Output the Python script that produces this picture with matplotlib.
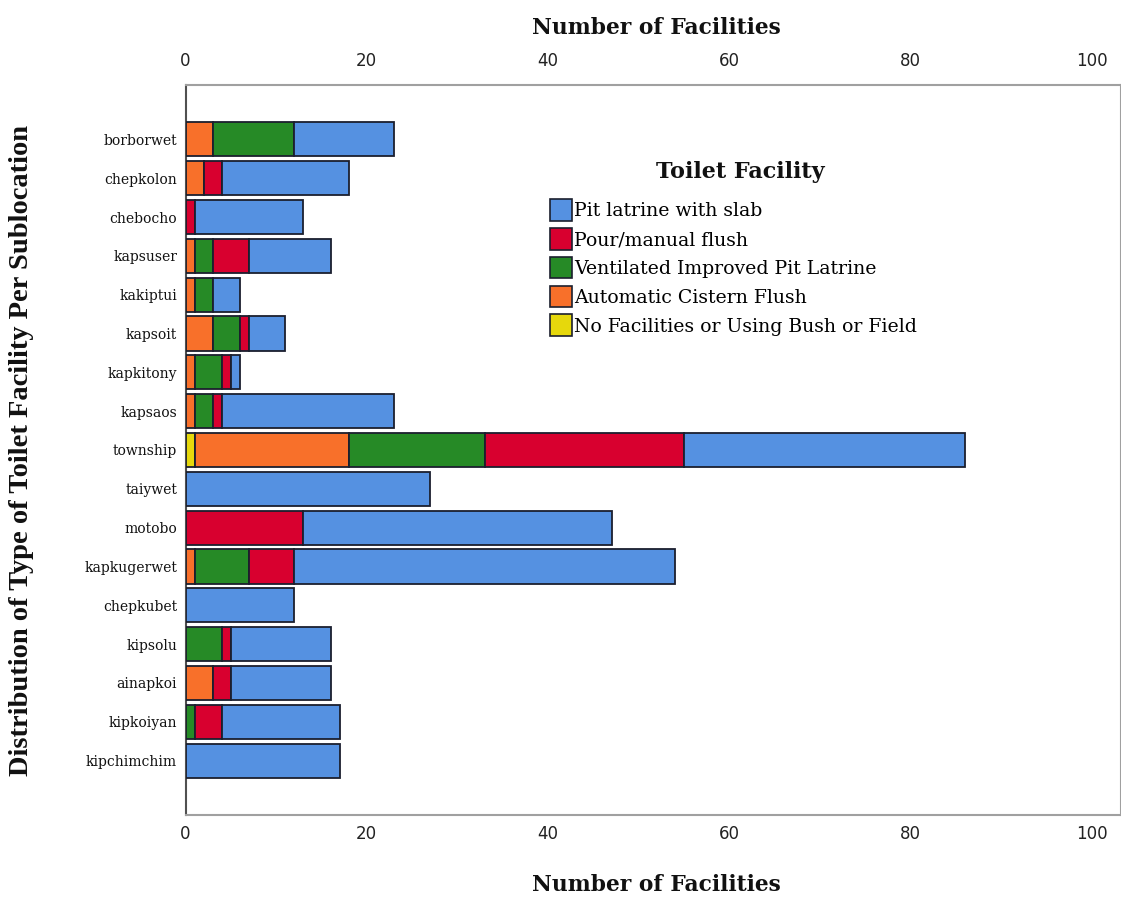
import matplotlib
matplotlib.use("Agg")
import matplotlib.pyplot as plt
from matplotlib.patches import Patch
import numpy as np

sublocations = ["borborwet", "chepkolon", "chebocho", "kapsuser", "kakiptui", "kapsoit",
                "kapkitony", "kapsaos", "township", "taiywet", "motobo", "kapkugerwet",
                "chepkubet", "kipsolu", "ainapkoi", "kipkoiyan", "kipchimchim"]

no_facilities   = [0, 0, 0, 0, 0, 0, 0, 0, 1, 0, 0, 0, 0, 0, 0, 0, 0]
automatic_flush = [3, 2, 0, 1, 1, 3, 1, 1, 17, 0, 0, 1, 0, 0, 3, 0, 0]
vip_latrine     = [9, 0, 0, 2, 2, 3, 3, 2, 15, 0, 0, 6, 0, 4, 0, 1, 0]
pour_flush      = [0, 2, 1, 4, 0, 1, 1, 1, 22, 0, 13, 5, 0, 1, 2, 3, 0]
pit_slab        = [11, 14, 12, 9, 3, 4, 1, 19, 31, 27, 34, 42, 12, 11, 11, 13, 17]

series_names = ["No Facilities or Using Bush or Field", "Automatic Cistern Flush",
                "Ventilated Improved Pit Latrine", "Pour/manual flush", "Pit latrine with slab"]
series_values = [no_facilities, automatic_flush, vip_latrine, pour_flush, pit_slab]
colors = ["#E6D80C", "#F8702A", "#268A26", "#D8002F", "#5591E1"]
x_ticks = [0, 20, 40, 60, 80, 100]

W, H = 1121, 899
fig = plt.figure(figsize=(W / 100, H / 100), dpi=100)
ax_left, ax_top, ax_bottom = 185.5, 85, 815
ax = fig.add_axes([ax_left / W, 1 - ax_bottom / H, 1 - ax_left / W, (ax_bottom - ax_top) / H])

y = np.arange(len(sublocations))
left = np.zeros(len(sublocations))
handles = {}
for name, vals, c in zip(series_names, series_values, colors):
    v = np.array(vals, dtype=float)
    ax.barh(y, v, left=left, height=0.88, color=c, edgecolor="#1b1f2e", linewidth=1.3, zorder=3)
    handles[name] = Patch(facecolor=c, edgecolor="#1b1f2e", linewidth=1.2)
    left += v

ax.set_ylim(len(sublocations) - 1 + 1.4, -1.4)
ax.set_xlim(0, 103.2)
ax.set_yticks(y)
ax.set_yticklabels(sublocations, fontfamily="DejaVu Serif", fontsize=10, color="#111111")
ax.set_xticks(x_ticks)
ax.tick_params(axis="x", length=0, labelsize=12, pad=7, colors="#222222")
ax.tick_params(axis="y", length=0, pad=6)
for s in ["top", "bottom", "right"]:
    ax.spines[s].set_color("#a0a0a0")
    ax.spines[s].set_linewidth(1.5)
ax.spines["left"].set_color("#505050")
ax.spines["left"].set_linewidth(1.5)

sec = ax.secondary_xaxis("top")
sec.set_xticks(x_ticks)
sec.tick_params(axis="x", length=0, labelsize=12, pad=11, colors="#222222")
sec.spines["top"].set_visible(False)

title_font = dict(family="DejaVu Serif", weight="bold", size=15.7, color="#111111")
fig.text(656 / W, 1 - 28 / H, "Number of Facilities", ha="center", va="center", **title_font)
fig.text(656 / W, 1 - 885 / H, "Number of Facilities", ha="center", va="center", **title_font)
fig.text(22 / W, 1 - 450 / H, "Distribution of Type of Toilet Facility Per Sublocation",
         rotation=90, ha="center", va="center", family="Liberation Serif", weight="bold",
         size=20.5, color="#111111")

legend_order = ["Pit latrine with slab", "Pour/manual flush", "Ventilated Improved Pit Latrine",
                "Automatic Cistern Flush", "No Facilities or Using Bush or Field"]
fig.text(740 / W, 1 - 172 / H, "Toilet Facility", ha="center", va="center",
         family="DejaVu Serif", weight="bold", size=16, color="#111111")
leg = ax.legend([handles[n] for n in legend_order], legend_order,
                frameon=False, loc="upper left", bbox_to_anchor=(533 / W, 1 - 182 / H),
                bbox_transform=fig.transFigure, prop={"family": "DejaVu Serif", "size": 13.6},
                handlelength=1.15, handleheight=1.39, handletextpad=0.12, labelspacing=0.38)

fig.savefig("out.png", dpi=100)
